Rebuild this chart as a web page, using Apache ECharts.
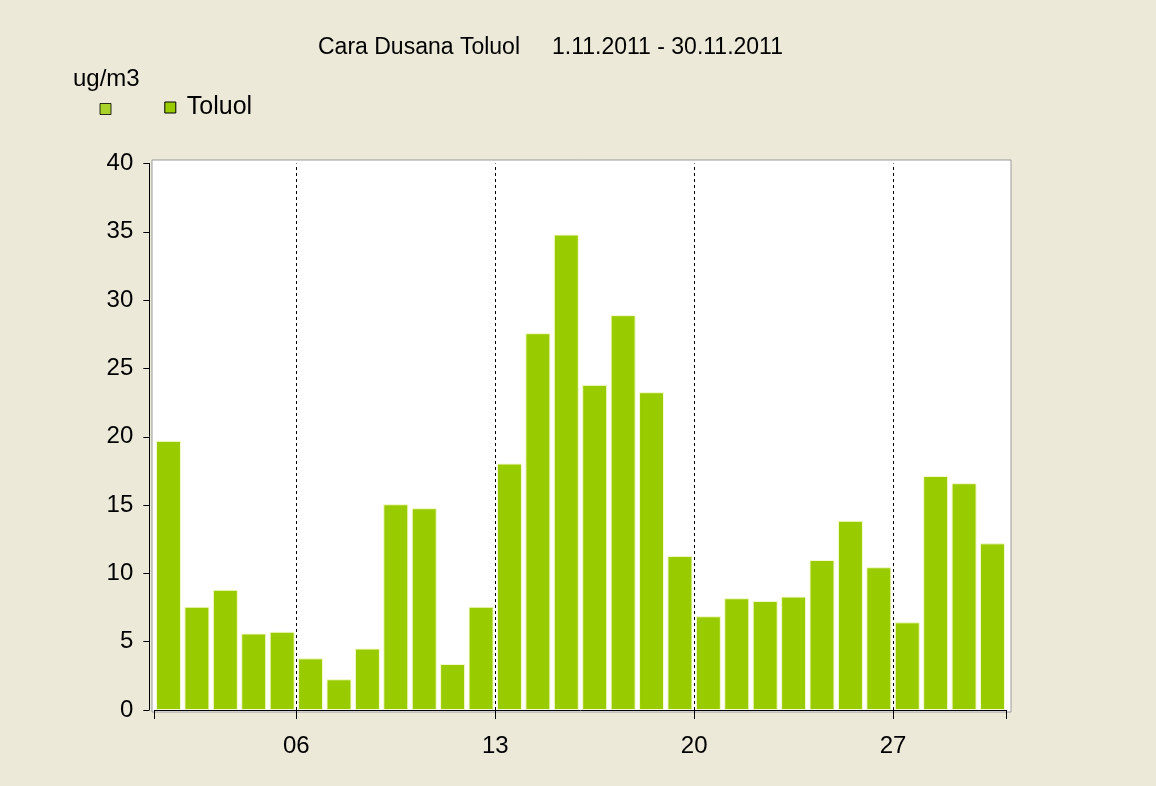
<!DOCTYPE html>
<html>
<head>
<meta charset="utf-8">
<script src="https://cdn.jsdelivr.net/npm/echarts@6/dist/echarts.min.js"></script>
<style>
html,body{margin:0;padding:0;background:#ece9d8;}
#chart{width:1156px;height:786px;}
</style>
</head>
<body>
<div id="chart"></div>
<script>
// ---- data ----
const chartTitle = 'Cara Dusana Toluol     1.11.2011 - 30.11.2011';
const unitLabel = 'ug/m3';
const seriesName = 'Toluol';
const days = [1,2,3,4,5,6,7,8,9,10,11,12,13,14,15,16,17,18,19,20,21,22,23,24,25,26,27,28,29,30];
const toluol = [19.7,7.56,8.8,5.6,5.73,3.78,2.25,4.5,15.06,14.77,3.37,7.56,18.04,27.58,34.8,23.8,28.9,23.26,11.28,6.86,8.18,7.98,8.3,10.98,13.85,10.45,6.42,17.13,16.6,12.2];
const tickDays = [1,6,13,20,27,31];
const labelDays = [6,13,20,27];
const yTicks = [0,5,10,15,20,25,30,35,40];

// ---- chart ----
const font = "'Liberation Sans', Arial, sans-serif";
const chart = echarts.init(document.getElementById('chart'), null, {renderer:'canvas'});
const barData = days.map((d,i)=>[d+0.5, toluol[i]]);

chart.setOption({
  backgroundColor:'#ece9d8',
  animation:false,
  textStyle:{fontFamily:font},
  title:[
    {text:chartTitle, left:318, top:36, padding:0,
     textStyle:{fontFamily:font, fontSize:23, fontWeight:'normal', color:'#000'}},
    {text:unitLabel, left:73, top:67, padding:0,
     textStyle:{fontFamily:font, fontSize:24, fontWeight:'normal', color:'#000'}}
  ],
  legend:[
    {data:[' '], left:99.5, top:103, padding:0, icon:'rect', itemWidth:11, itemHeight:11,
     formatter:()=>'', itemStyle:{borderColor:'#000', borderWidth:1},
     textStyle:{fontSize:2}},
    {data:[seriesName], left:164.3, top:95, padding:0, icon:'rect', itemWidth:11, itemHeight:11,
     itemStyle:{borderColor:'#000', borderWidth:1},
     textStyle:{fontFamily:font, fontSize:25, color:'#000', padding:[0,0,0,6]}}
  ],
  grid:[
    {left:152, top:160, width:859, height:552, show:true, backgroundColor:'#ffffff',
     borderColor:'#999', borderWidth:1},
    {left:154.3, top:163.5, width:852.4, height:546.5}
  ],
  xAxis:[
    {gridIndex:0, type:'value', show:false, min:0, max:1},
    {gridIndex:1, type:'value', min:tickDays[0], max:tickDays[tickDays.length-1], offset:3,
     axisLine:{show:true, lineStyle:{color:'#000', width:1}},
     axisTick:{show:true, customValues:tickDays, length:9, lineStyle:{color:'#000', width:1}},
     axisLabel:{show:true, customValues:labelDays, margin:21, fontSize:24, color:'#000', fontFamily:font,
       formatter:v=>String(v).padStart(2,'0')},
     splitLine:{show:false}}
  ],
  yAxis:[
    {gridIndex:0, type:'value', show:false, min:0, max:1},
    {gridIndex:1, type:'value', min:yTicks[0], max:yTicks[yTicks.length-1], interval:5, offset:5,
     axisLine:{show:true, lineStyle:{color:'#000', width:1}},
     axisTick:{show:true, length:6, lineStyle:{color:'#000', width:1}},
     axisLabel:{margin:16, fontSize:24, color:'#000', fontFamily:font},
     splitLine:{show:false}}
  ],
  series:[
    {name:' ', type:'scatter', xAxisIndex:0, yAxisIndex:0, data:[], itemStyle:{color:'#99cc00'}},
    {name:seriesName, type:'bar', xAxisIndex:1, yAxisIndex:1, data:barData, barWidth:'88%',
     itemStyle:{color:'#99cc00', borderColor:'#f6f9cf', borderWidth:1},
     markLine:{silent:true, symbol:['none','none'], label:{show:false},
       lineStyle:{color:'#000', width:1, type:[3,3]},
       data:labelDays.map(d=>({xAxis:d}))}}
  ]
});
</script>
</body>
</html>
